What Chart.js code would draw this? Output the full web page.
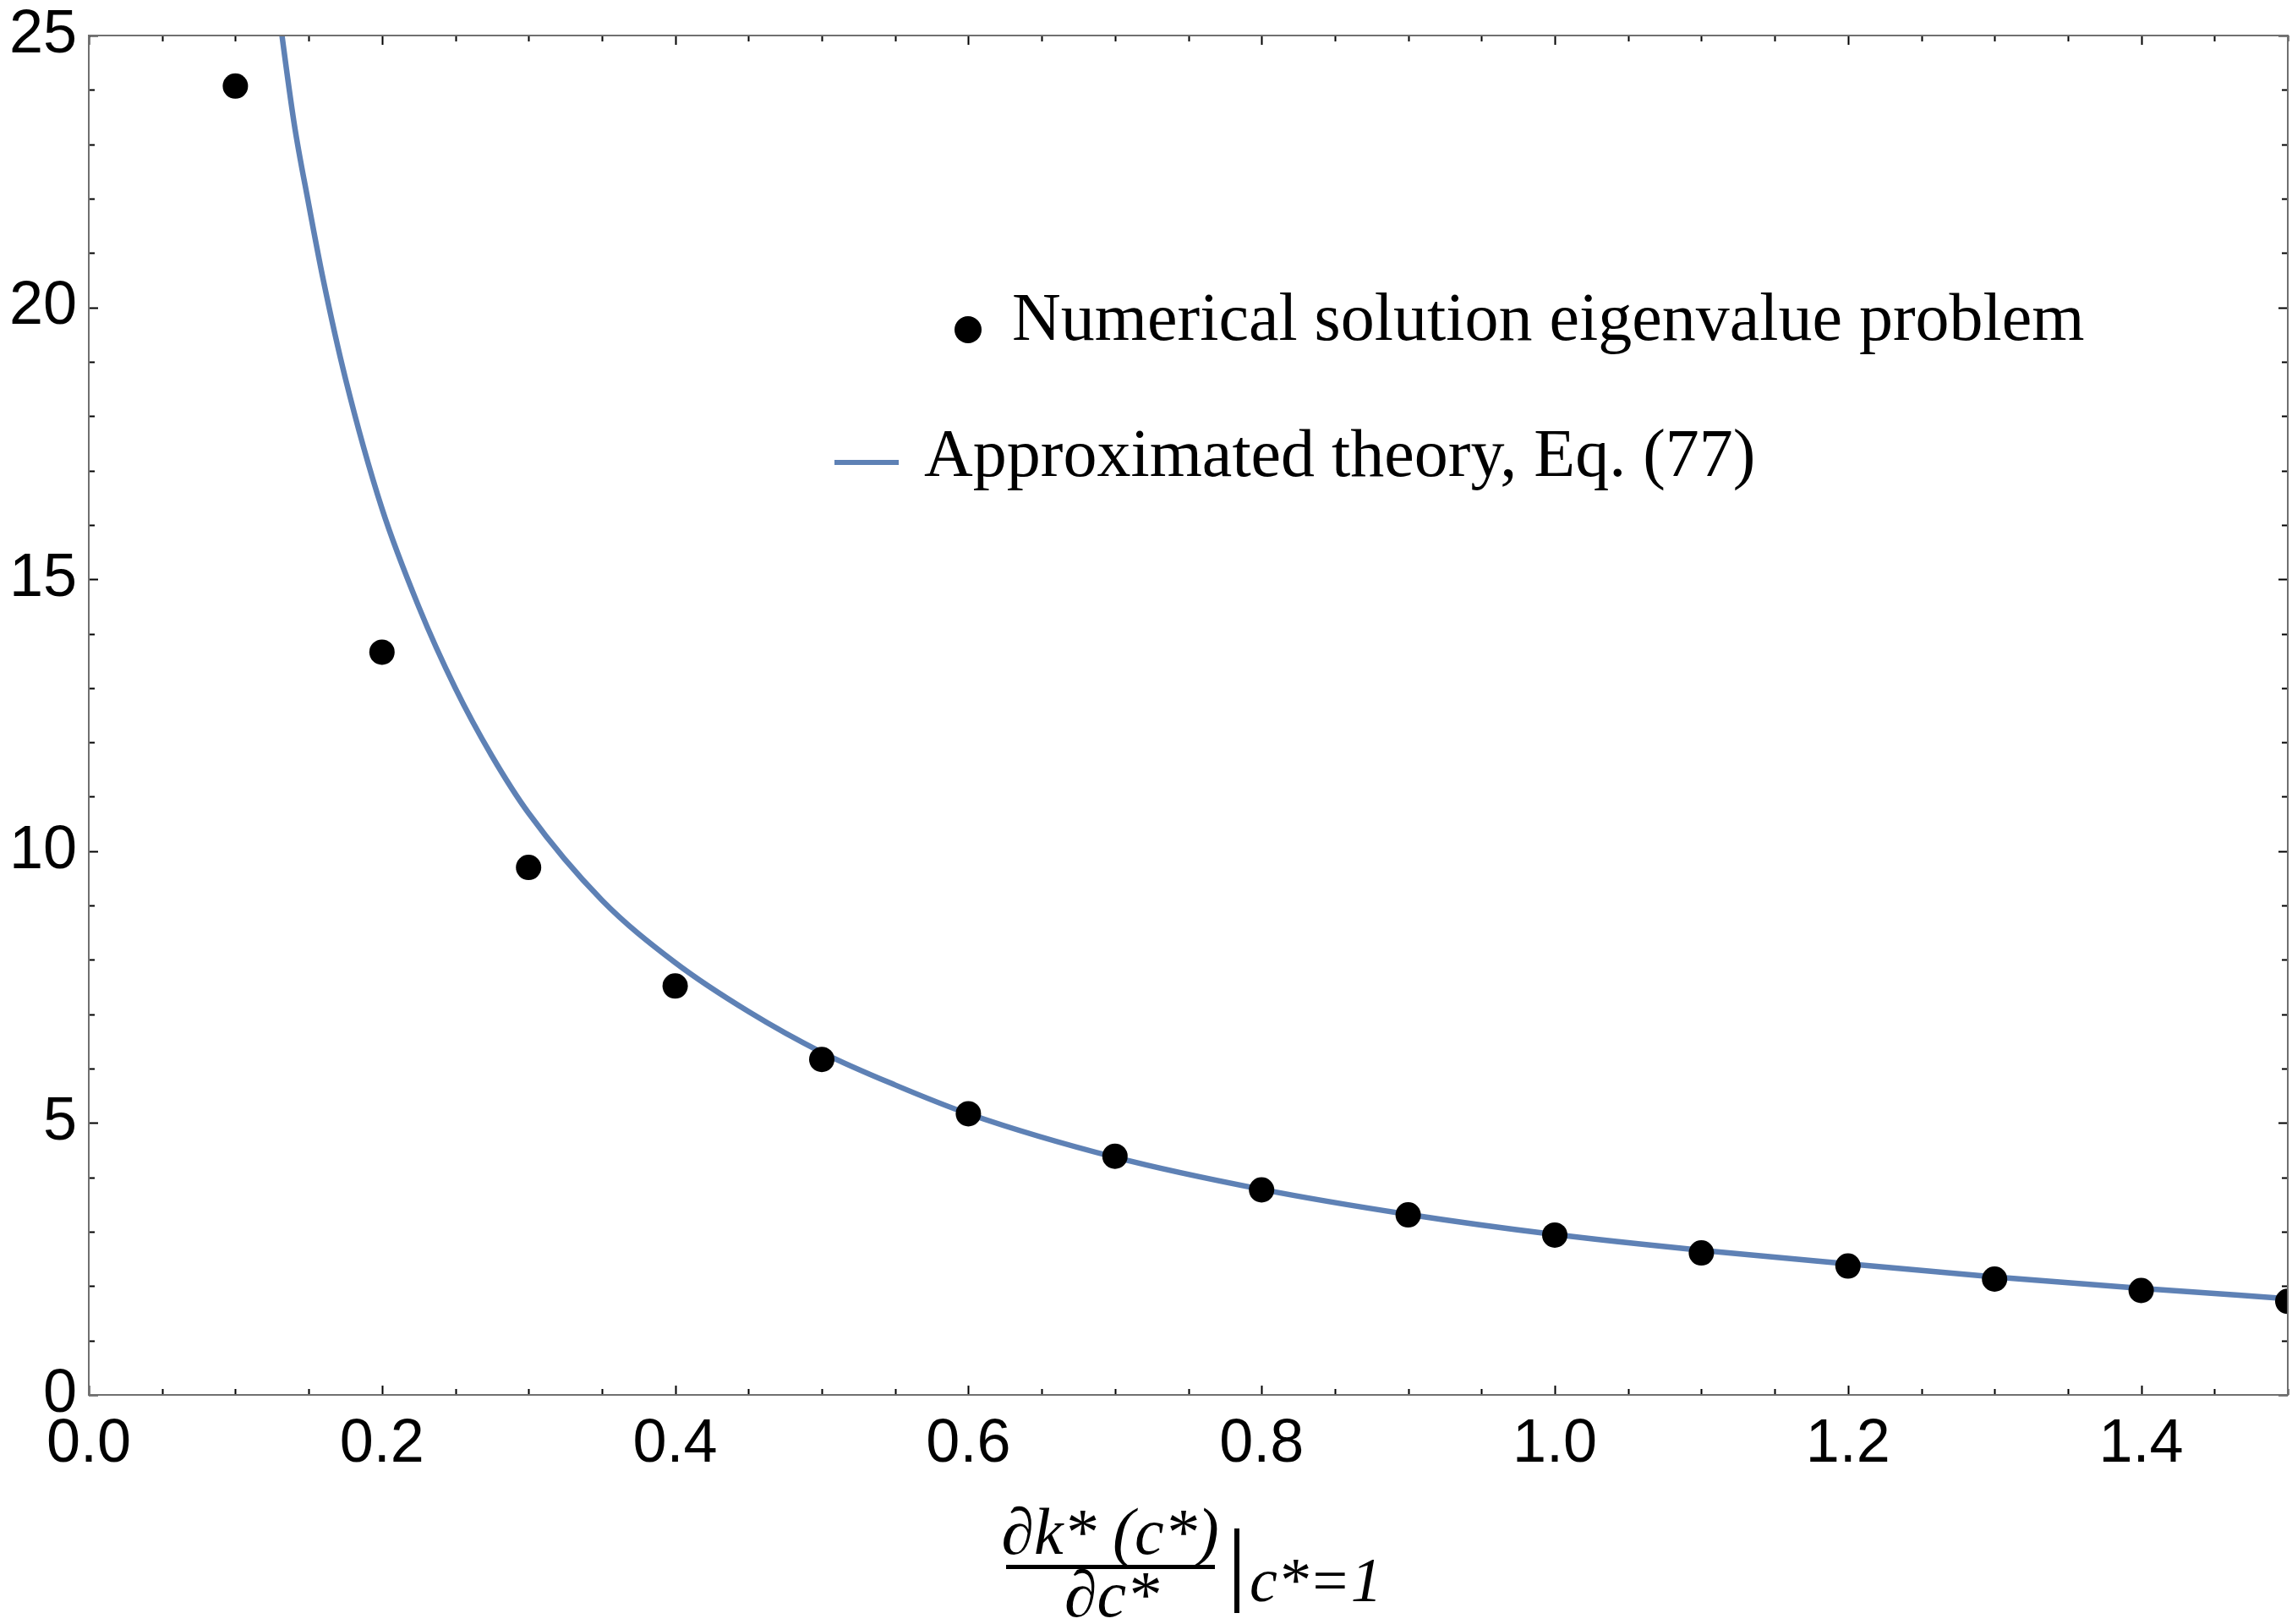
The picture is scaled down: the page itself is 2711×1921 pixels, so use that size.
<!DOCTYPE html>
<html>
<head>
<meta charset="utf-8">
<script src="https://cdn.jsdelivr.net/npm/chart.js@4/dist/chart.umd.min.js"></script>
<style>
  html, body { margin: 0; padding: 0; background: #fff; overflow: hidden; }
  #wrap { width: 2711px; height: 1921px; position: relative; }
</style>
</head>
<body>
<div id="wrap"><canvas id="chart"></canvas></div>
<script>
// numerical solution of the eigenvalue problem
var pointX = [0.1, 0.2, 0.3, 0.4, 0.5, 0.6, 0.7, 0.8, 0.9, 1.0, 1.1, 1.2, 1.3, 1.4, 1.5];
var pointY = [24.07, 13.66, 9.70, 7.52, 6.17, 5.17, 4.39, 3.77, 3.31, 2.94, 2.61, 2.37, 2.13, 1.92, 1.72];

// approximated theory, Eq. (77)
var curveX = [0.125, 0.14, 0.15, 0.16, 0.175, 0.2, 0.225, 0.25, 0.275, 0.3, 0.35, 0.4, 0.45, 0.5, 0.55, 0.6, 0.7, 0.8, 0.9, 1.0, 1.1, 1.2, 1.3, 1.4, 1.5];
var curveY = [26.4, 23.4, 21.9, 20.5, 18.7, 16.3, 14.5, 13.0, 11.75, 10.7, 9.1, 7.95, 7.05, 6.3, 5.7, 5.17, 4.37, 3.78, 3.32, 2.95, 2.66, 2.41, 2.17, 1.96, 1.77];

var xTicks = [0, 0.2, 0.4, 0.6, 0.8, 1.0, 1.2, 1.4];
var xTickLabels = ["0.0", "0.2", "0.4", "0.6", "0.8", "1.0", "1.2", "1.4"];
var yTicks = [0, 5, 10, 15, 20, 25];
var yTickLabels = ["0", "5", "10", "15", "20", "25"];

var legendLabels = ["Numerical solution eigenvalue problem", "Approximated theory, Eq. (77)"];

var BLUE = "#5E81B5";

function toXY(xs, ys) {
    var out = [];
    for (var i = 0; i < xs.length; i++) out.push({x: xs[i], y: ys[i]});
    return out;
}

// no extra room for overflowing labels, the frame sits where layout.padding says
function noPad(s) {
    s.paddingTop = 0; s.paddingBottom = 0;
    s.paddingLeft = 0; s.paddingRight = 0;
}

// frame + inward ticks on all four sides, Mathematica style
var framePlugin = {
    id: "frame",
    afterDatasetsDraw: function(chart) {
        var ctx = chart.ctx, a = chart.chartArea;
        var xs = chart.scales.x, ys = chart.scales.y;
        ctx.save();
        ctx.strokeStyle = "#000";
        ctx.lineWidth = 2;
        var i, v, p, len;
        for (i = 0; i <= 30; i++) {
            v = i * 0.05;
            p = Math.round(xs.getPixelForValue(v)) + 0.5;
            len = (i % 4 === 0) ? 11 : 7;
            ctx.beginPath();
            ctx.moveTo(p, a.bottom); ctx.lineTo(p, a.bottom - len);
            ctx.moveTo(p, a.top); ctx.lineTo(p, a.top + len);
            ctx.stroke();
        }
        for (i = 0; i <= 25; i++) {
            p = Math.round(ys.getPixelForValue(i)) + 0.5;
            len = (i % 5 === 0) ? 11 : 7;
            ctx.beginPath();
            ctx.moveTo(a.left, p); ctx.lineTo(a.left + len, p);
            ctx.moveTo(a.right, p); ctx.lineTo(a.right - len, p);
            ctx.stroke();
        }
        ctx.strokeStyle = "#707070";
        ctx.lineWidth = 2;
        ctx.strokeRect(a.left, a.top, a.right - a.left, a.bottom - a.top);
        ctx.restore();
    },
    afterDraw: function(chart) {
        var ctx = chart.ctx;
        ctx.save();
        // legend
        ctx.fillStyle = "#000";
        ctx.beginPath();
        ctx.arc(1145, 390, 16, 0, Math.PI * 2);
        ctx.fill();
        ctx.font = "80px 'Liberation Serif'";
        ctx.textBaseline = "alphabetic";
        ctx.textAlign = "left";
        ctx.fillText(legendLabels[0], 1197, 402);
        ctx.strokeStyle = BLUE;
        ctx.lineWidth = 6;
        ctx.beginPath();
        ctx.moveTo(987, 547); ctx.lineTo(1063, 547);
        ctx.stroke();
        ctx.fillText(legendLabels[1], 1093, 563);

        // x axis title: fraction with evaluation bar
        ctx.font = "italic 78px 'Liberation Serif'";
        ctx.textAlign = "center";
        ctx.fillText("\u2202k* (c*)", 1313, 1838);
        ctx.fillText("\u2202c*", 1315, 1912);
        ctx.fillRect(1190, 1851, 247, 5);
        ctx.fillRect(1460, 1808, 6, 100);
        ctx.textAlign = "left";
        ctx.font = "italic 74px 'Liberation Serif'";
        ctx.fillText("c*=1", 1478, 1894);
        ctx.restore();
    }
};

new Chart(document.getElementById("chart"), {
    type: "scatter",
    data: {
        datasets: [
            {
                label: legendLabels[0],
                data: toXY(pointX, pointY),
                pointRadius: 15,
                pointHoverRadius: 15,
                backgroundColor: "#000",
                borderColor: "#000",
                borderWidth: 0,
                clip: 0
            },
            {
                label: legendLabels[1],
                data: toXY(curveX, curveY),
                showLine: true,
                pointRadius: 0,
                borderColor: BLUE,
                borderWidth: 6.5,
                cubicInterpolationMode: "monotone",
                clip: 0
            }
        ]
    },
    options: {
        responsive: true,
        maintainAspectRatio: false,
        animation: false,
        events: [],
        layout: { autoPadding: false, padding: { top: 42, right: 5, left: 0, bottom: 0 } },
        plugins: { legend: { display: false }, tooltip: { enabled: false } },
        scales: {
            x: {
                type: "linear",
                min: 0, max: 1.5,
                grid: { display: false, drawTicks: false },
                border: { display: false },
                afterFit: function(s) { s.height = 271; noPad(s); },
                afterBuildTicks: function(s) { s.ticks = xTicks.map(function(v) { return {value: v}; }); },
                ticks: {
                    padding: 16,
                    maxRotation: 0,
                    autoSkip: false,
                    color: "#000",
                    font: { family: "'Liberation Sans'", size: 72 },
                    callback: function(v) { return xTickLabels[xTicks.indexOf(v)]; }
                }
            },
            y: {
                type: "linear",
                min: 0, max: 25,
                grid: { display: false, drawTicks: false },
                border: { display: false },
                afterFit: function(s) { s.width = 105; noPad(s); },
                afterBuildTicks: function(s) { s.ticks = yTicks.map(function(v) { return {value: v}; }); },
                ticks: {
                    padding: 14,
                    autoSkip: false,
                    color: "#000",
                    font: { family: "'Liberation Sans'", size: 72 },
                    callback: function(v) { return yTickLabels[yTicks.indexOf(v)]; }
                }
            }
        }
    },
    plugins: [framePlugin]
});
</script>
</body>
</html>
